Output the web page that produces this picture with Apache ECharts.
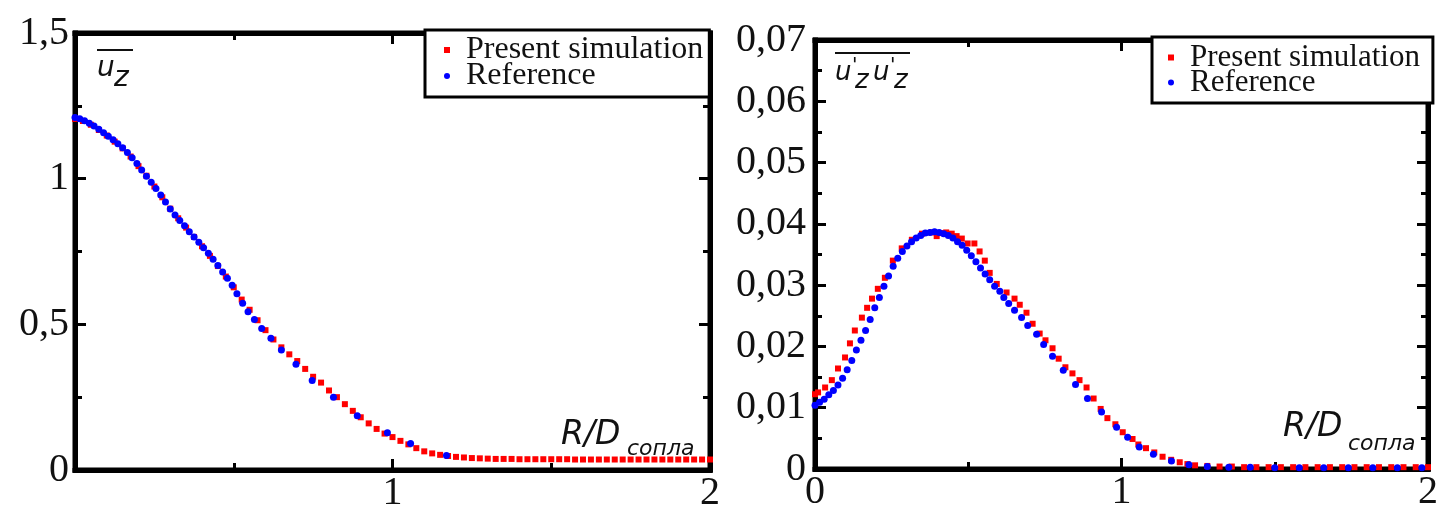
<!DOCTYPE html>
<html>
<head>
<meta charset="utf-8">
<script src="https://cdn.jsdelivr.net/npm/echarts@6/dist/echarts.min.js"></script>
<style>
html,body{margin:0;padding:0;background:#fff;}
#chart{width:1441px;height:513px;}
</style>
</head>
<body>
<div id="chart"></div>
<script>
// ---------- DATA ----------
const seriesNames = ['Present simulation', 'Reference'];

// Left panel: mean axial velocity u_z vs R/D
const leftSimR = [0,0.025,0.05,0.075,0.1,0.125,0.15,0.175,0.2,0.225,0.25,0.275,0.3,0.325,0.35,0.375,0.4,0.425,0.45,0.475,0.5,0.525,0.55,0.575,0.6,0.625,0.65,0.675,0.7,0.725,0.75,0.775,0.8,0.825,0.85,0.875,0.9,0.925,0.95,0.975,1.0,1.025,1.05,1.075,1.1,1.125,1.15,1.175,1.2,1.225,1.25,1.275,1.3,1.325,1.35,1.375,1.4,1.425,1.45,1.475,1.5,1.525,1.55,1.575,1.6,1.625,1.65,1.675,1.7,1.725,1.75,1.775,1.8,1.825,1.85,1.875,1.9,1.925,1.95,1.975,2.0];
const leftSimU = [1.205,1.198,1.185,1.167,1.148,1.127,1.104,1.076,1.043,1.010,0.973,0.936,0.897,0.864,0.832,0.800,0.768,0.735,0.700,0.664,0.627,0.585,0.550,0.514,0.480,0.448,0.421,0.397,0.374,0.347,0.320,0.300,0.273,0.250,0.226,0.203,0.181,0.160,0.141,0.125,0.113,0.100,0.088,0.075,0.064,0.057,0.052,0.048,0.045,0.043,0.041,0.040,0.039,0.038,0.038,0.038,0.037,0.037,0.037,0.037,0.037,0.037,0.037,0.036,0.036,0.036,0.036,0.036,0.036,0.036,0.036,0.036,0.036,0.036,0.036,0.036,0.036,0.036,0.036,0.036,0.036];
const leftRefR = [0,0.015,0.03,0.045,0.06,0.075,0.09,0.105,0.12,0.135,0.15,0.165,0.18,0.195,0.21,0.225,0.24,0.255,0.27,0.285,0.3,0.315,0.33,0.345,0.36,0.375,0.39,0.405,0.42,0.435,0.45,0.465,0.48,0.495,0.51,0.528,0.545,0.565,0.588,0.617,0.65,0.696,0.747,0.814,0.889,0.984,1.057,1.17];
const leftRefU = [1.21,1.206,1.199,1.19,1.181,1.17,1.158,1.146,1.134,1.12,1.106,1.09,1.072,1.052,1.03,1.008,0.988,0.966,0.944,0.92,0.896,0.875,0.856,0.838,0.818,0.80,0.782,0.763,0.744,0.723,0.702,0.68,0.658,0.634,0.605,0.572,0.543,0.517,0.486,0.452,0.412,0.363,0.307,0.25,0.186,0.128,0.091,0.05];

// Right panel: u'_z u'_z vs R/D
const rightSimR = [0,0.01,0.033,0.055,0.075,0.098,0.114,0.13,0.153,0.17,0.186,0.205,0.228,0.254,0.283,0.316,0.349,0.381,0.397,0.41,0.428,0.446,0.462,0.479,0.498,0.52,0.537,0.554,0.57,0.593,0.625,0.651,0.668,0.69,0.71,0.733,0.752,0.775,0.795,0.817,0.84,0.863,0.886,0.909,0.932,0.954,0.98,1.004,1.036,1.055,1.08,1.107,1.134,1.162,1.19,1.215,1.24,1.28,1.32,1.36,1.4,1.44,1.48,1.52,1.56,1.6,1.64,1.68,1.72,1.76,1.8,1.84,1.88,1.92,1.96,2.0];
const rightSimV = [0.0122,0.0125,0.0133,0.0145,0.0164,0.0182,0.0205,0.0226,0.0247,0.0263,0.0278,0.0294,0.0312,0.034,0.036,0.0374,0.0384,0.0386,0.038,0.0385,0.0386,0.0384,0.038,0.0376,0.0368,0.0368,0.0355,0.034,0.032,0.0302,0.0288,0.0278,0.0268,0.0255,0.0237,0.0221,0.021,0.0197,0.018,0.0166,0.0156,0.0145,0.0133,0.0115,0.0098,0.0083,0.0073,0.006,0.0049,0.004,0.0034,0.0027,0.002,0.0015,0.0011,0.0008,0.0006,0.0005,0.0004,0.0004,0.0003,0.0003,0.0003,0.0003,0.0003,0.0003,0.0003,0.0003,0.0003,0.0003,0.0003,0.0003,0.0003,0.0003,0.0003,0.0003];
const rightRefR = [0,0.015,0.03,0.045,0.06,0.075,0.09,0.105,0.12,0.135,0.15,0.165,0.18,0.195,0.21,0.225,0.24,0.255,0.27,0.285,0.3,0.315,0.33,0.345,0.36,0.375,0.39,0.405,0.42,0.435,0.45,0.465,0.48,0.495,0.51,0.525,0.54,0.555,0.57,0.586,0.603,0.616,0.632,0.651,0.674,0.694,0.723,0.746,0.775,0.81,0.85,0.889,0.935,0.984,1.02,1.058,1.104,1.163,1.22,1.28,1.35,1.42,1.5,1.58,1.66,1.74,1.82,1.9,1.98];
const rightRefV = [0.0104,0.0109,0.0114,0.0121,0.0128,0.0137,0.0148,0.0162,0.0177,0.0194,0.021,0.0226,0.0244,0.0263,0.028,0.0298,0.0315,0.0331,0.0344,0.0355,0.0364,0.0371,0.0377,0.0381,0.0385,0.0386,0.0387,0.0386,0.0384,0.0381,0.0377,0.0371,0.0365,0.0357,0.0348,0.0338,0.0328,0.0318,0.0309,0.0298,0.029,0.028,0.027,0.0259,0.0247,0.0234,0.022,0.0203,0.0184,0.0161,0.0138,0.0115,0.0093,0.0068,0.0052,0.0036,0.0024,0.0013,0.0007,0.0004,0.0003,0.0003,0.0002,0.0002,0.0002,0.0002,0.0002,0.0002,0.0002];

// Axis ranges / tick labels
const leftX = {min: 0, max: 2, interval: 1};
const leftY = {min: 0, max: 1.5, interval: 0.5};
const rightX = {min: 0, max: 2, interval: 1};
const rightY = {min: 0, max: 0.07, interval: 0.01};

// ---------- CHART ----------
const zip = (a, b) => a.map((v, i) => [v, b[i]]);
const comma = v => {
  const s = String(Math.round(v * 1000) / 1000);
  return s.replace('.', ',');
};
const SERIF = '"Liberation Serif", "DejaVu Serif", serif';
const SANS = '"DejaVu Sans", "Liberation Sans", sans-serif';
const LW = 5;

function axisBase(grid, r) {
  return {
    type: 'value', gridIndex: grid, min: r.min, max: r.max, interval: r.interval,
    axisLine: {show: true, onZero: false, lineStyle: {color: '#000', width: LW, cap: 'square'}},
    axisTick: {show: true, inside: true, length: 11, lineStyle: {color: '#000', width: 3}},
    minorTick: {show: true, splitNumber: 2, length: 7, lineStyle: {color: '#000', width: 3}},
    splitLine: {show: false}, minorSplitLine: {show: false}
  };
}
function xAxes(grid, r, hideZero) {
  return [
    Object.assign(axisBase(grid, r), {position: 'bottom', axisLabel: {
      fontFamily: SERIF, fontSize: 40, color: '#111', margin: 3,
      formatter: v => (hideZero && v === 0) ? '' : comma(v)}}),
    Object.assign(axisBase(grid, r), {position: 'top', axisLabel: {show: false}})
  ];
}
function yAxes(grid, r, margin) {
  return [
    Object.assign(axisBase(grid, r), {position: 'left', axisLabel: {
      fontFamily: SERIF, fontSize: 40, color: '#111', margin: margin, formatter: comma}}),
    Object.assign(axisBase(grid, r), {position: 'right', axisLabel: {show: false}})
  ];
}

const SQUARE = 'path://M0 0H10V10H0Z';
const legendBase = {
  orient: 'vertical', backgroundColor: '#fff', borderColor: '#000', borderWidth: 3,
  itemWidth: 28, itemHeight: 6, itemGap: -6,
  textStyle: {fontFamily: SERIF, fontSize: 31, color: '#111'},
  data: [{name: seriesNames[0], icon: SQUARE}, {name: seriesNames[1], icon: 'circle'}]
};

function txt(x, y, text, size, opts) {
  return {type: 'text', x: x, y: y, z: 50, silent: true,
    style: Object.assign({text: text, font: 'italic ' + size + 'px ' + SANS, fill: '#111',
      align: 'left', verticalAlign: 'middle'}, opts || {})};
}
function bar(x1, x2, y) {
  return {type: 'line', z: 50, silent: true, shape: {x1: x1, y1: y, x2: x2, y2: y},
    style: {stroke: '#111', lineWidth: 2}};
}

const RED = '#ff0000', BLUE = '#0000ff';

const option = {
  animation: false,
  backgroundColor: '#fff',
  grid: [
    {left: 75, top: 33, width: 635, height: 444, show: true, borderColor: '#000', borderWidth: LW, backgroundColor: 'transparent'},
    {left: 815, top: 40, width: 615, height: 429, show: true, borderColor: '#000', borderWidth: LW, backgroundColor: 'transparent'}
  ],
  xAxis: [...xAxes(0, leftX, true), ...xAxes(1, rightX, false)],
  yAxis: [...yAxes(0, leftY, 6), ...yAxes(1, rightY, 9)],
  legend: [
    Object.assign({}, legendBase, {left: 425, top: 30, padding: [4, 6, 5, 19], textStyle: Object.assign({}, legendBase.textStyle, {fontSize: 32})}),
    Object.assign({}, legendBase, {left: 1152, top: 37, padding: [5, 13, 5, 16]})
  ],
  series: [
    {type: 'scatter', name: seriesNames[0], xAxisIndex: 0, yAxisIndex: 0, symbol: 'rect', symbolSize: 6,
      itemStyle: {color: RED, opacity: 1}, data: zip(leftSimR, leftSimU)},
    {type: 'scatter', name: seriesNames[1], xAxisIndex: 0, yAxisIndex: 0, symbol: 'circle', symbolSize: 7,
      itemStyle: {color: BLUE, opacity: 1}, data: zip(leftRefR, leftRefU)},
    {type: 'scatter', name: seriesNames[0], xAxisIndex: 2, yAxisIndex: 2, symbol: 'rect', symbolSize: 6,
      itemStyle: {color: RED, opacity: 1}, data: zip(rightSimR, rightSimV)},
    {type: 'scatter', name: seriesNames[1], xAxisIndex: 2, yAxisIndex: 2, symbol: 'circle', symbolSize: 7,
      itemStyle: {color: BLUE, opacity: 1}, data: zip(rightRefR, rightRefV)}
  ],
  graphic: [
    // left panel quantity label: overline u_z
    bar(97, 133, 50),
    txt(97, 69, 'u', 28),
    txt(114, 79, 'z', 28),
    // right panel: overline u'_z u'_z
    bar(835, 910, 53),
    txt(835, 73, 'u', 26),
    txt(852, 66, '\'', 20),
    txt(855, 81, 'z', 26),
    txt(873, 73, 'u', 26),
    txt(890, 66, '\'', 20),
    txt(894, 81, 'z', 26),
    // axis names R/D_сопла
    txt(561, 435, 'R/D', 33),
    txt(627, 449, 'сопла', 22),
    txt(1283, 427, 'R/D', 33),
    txt(1348, 444, 'сопла', 22)
  ]
};

const chart = echarts.init(document.getElementById('chart'), null, {renderer: 'canvas'});
chart.setOption(option);
</script>
</body>
</html>
